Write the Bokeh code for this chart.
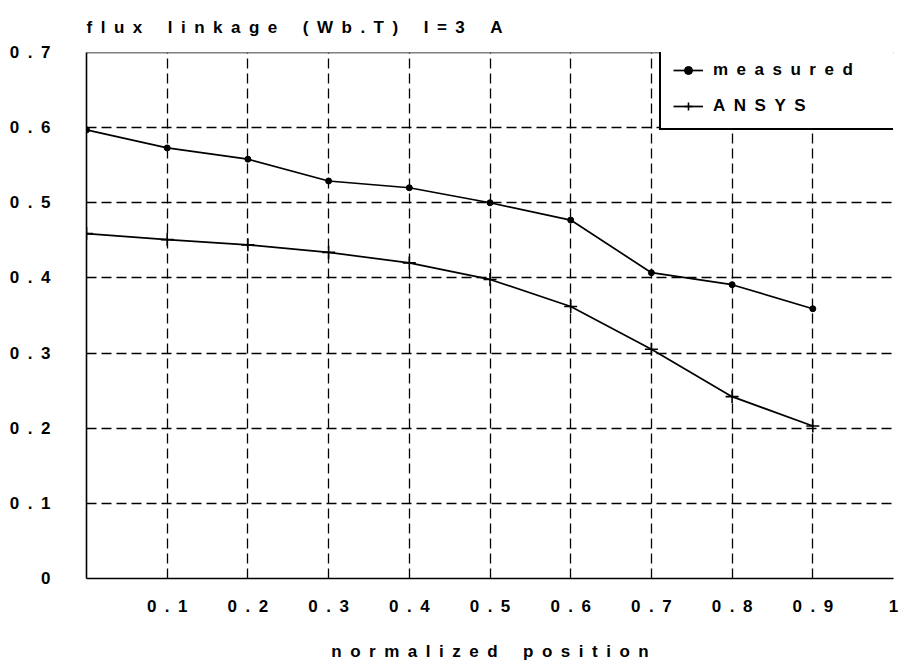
from bokeh.plotting import figure
from bokeh.models import Range1d, FixedTicker, Span, Legend, LegendItem
from bokeh.embed import file_html
from bokeh.resources import INLINE

# ---- data ----
x_pos = [0.0, 0.1, 0.2, 0.3, 0.4, 0.5, 0.6, 0.7, 0.8, 0.9]
measured = [0.597, 0.573, 0.558, 0.529, 0.520, 0.500, 0.477, 0.407, 0.391, 0.359]
ansys = [0.459, 0.451, 0.444, 0.434, 0.420, 0.398, 0.362, 0.305, 0.242, 0.203]

x_ticks = [0.1, 0.2, 0.3, 0.4, 0.5, 0.6, 0.7, 0.8, 0.9, 1.0]
x_tick_labels = ["0.1", "0.2", "0.3", "0.4", "0.5", "0.6", "0.7", "0.8", "0.9", "1"]
y_ticks = [0.0, 0.1, 0.2, 0.3, 0.4, 0.5, 0.6, 0.7]
y_tick_labels = ["0", "0.1", "0.2", "0.3", "0.4", "0.5", "0.6", "0.7"]

title_text = "flux linkage (Wb.T) I=3 A"
x_title = "normalized position"
series_names = ["measured", "ANSYS"]

x_min, x_max = 0.0, 1.0
y_min, y_max = 0.0, 0.7

EN = "\u2002"
EM = "\u2003"


def spaced(s, gap=EN, word_gap=EM + EN):
    return word_gap.join(gap.join(w) for w in s.split(" "))


FONT = "Liberation Sans"

p = figure(width=901, height=664, output_backend="svg", toolbar_location=None,
           x_range=Range1d(x_min, x_max), y_range=Range1d(y_min, y_max),
           min_border_left=86, min_border_right=8, min_border_top=50,
           min_border_bottom=86, title=spaced(title_text))

p.outline_line_color = None
p.background_fill_color = "white"
p.border_fill_color = "white"

p.title.align = "left"
p.title.text_font = FONT
p.title.text_font_style = "bold"
p.title.text_font_size = "17px"
p.title.text_color = "black"
p.title.standoff = 31

# grid
for g, t in ((p.xgrid, x_ticks), (p.ygrid, y_ticks)):
    g.ticker = FixedTicker(ticks=t)
    g.grid_line_color = "black"
    g.grid_line_dash = "10 5"
    g.grid_line_width = 1.3

# axes
p.xaxis.ticker = FixedTicker(ticks=x_ticks)
p.yaxis.ticker = FixedTicker(ticks=y_ticks)
p.xaxis.major_label_overrides = {t: spaced(l) for t, l in zip(x_ticks, x_tick_labels)}
p.yaxis.major_label_overrides = {t: spaced(l) for t, l in zip(y_ticks, y_tick_labels)}
for ax in (p.xaxis, p.yaxis):
    ax.axis_line_color = "black"
    ax.axis_line_width = 1.6
    ax.major_tick_line_color = None
    ax.minor_tick_line_color = None
    ax.major_label_text_font = FONT
    ax.major_label_text_font_style = "bold"
    ax.major_label_text_font_size = "17px"
    ax.major_label_text_color = "black"
p.xaxis.major_label_standoff = 12
p.yaxis.major_label_standoff = 30
p.xaxis.axis_label = spaced(x_title)
p.xaxis.axis_label_text_font = FONT
p.xaxis.axis_label_text_font_style = "bold"
p.xaxis.axis_label_text_font_size = "17px"
p.xaxis.axis_label_text_color = "black"
p.xaxis.axis_label_standoff = 23

# top border
p.add_layout(Span(location=y_max, dimension="width", line_color="black", line_width=1.6))

# series
r1 = p.line(x_pos, measured, line_color="black", line_width=1.7)
r1m = p.scatter(x_pos, measured, marker="circle", size=6, color="black")
r2 = p.line(x_pos, ansys, line_color="black", line_width=1.7)
r2m = p.scatter(x_pos, ansys, marker="cross", size=13, line_color="black", line_width=1.6)

legend = Legend(items=[LegendItem(label=spaced(series_names[0]), renderers=[r1, r1m]),
                       LegendItem(label=spaced(series_names[1]), renderers=[r2, r2m])],
                location=(573, 448), padding=12, spacing=16, glyph_width=30,
                glyph_height=20, label_height=20, label_width=200, label_standoff=10,
                margin=0, border_line_color="black", border_line_width=2,
                border_line_alpha=1.0,
                background_fill_color="white", background_fill_alpha=1.0,
                label_text_font=FONT, label_text_font_style="bold",
                label_text_font_size="17px", label_text_color="black")
p.add_layout(legend)

open("out.html", "w").write(file_html(p, INLINE))
